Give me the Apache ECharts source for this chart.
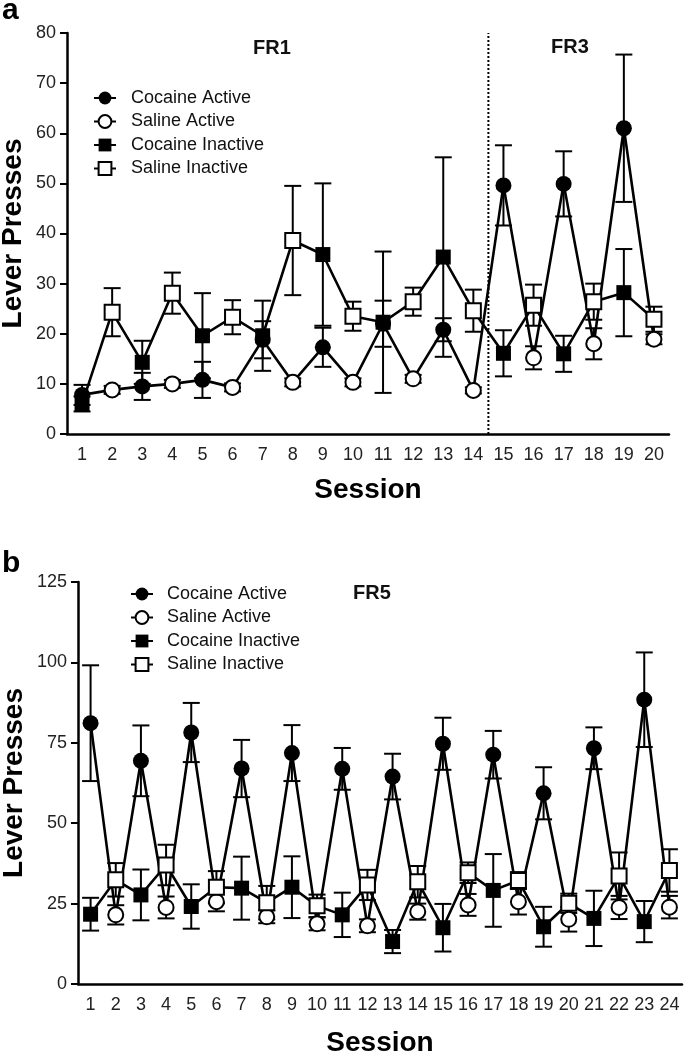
<!DOCTYPE html>
<html>
<head>
<meta charset="utf-8">
<script src="https://cdn.jsdelivr.net/npm/echarts@6/dist/echarts.min.js"></script>
<style>
html,body{margin:0;padding:0;background:#fff;}
#chart{width:685px;height:1055px;}
</style>
</head>
<body>
<div id="chart"></div>
<script>
// ---------- Panel a (FR1 / FR3), sessions 1-20 ----------
const sessionsA = ['1','2','3','4','5','6','7','8','9','10','11','12','13','14','15','16','17','18','19','20'];
const cocaineActiveA      = [7.8,null,9.5,null,10.8,null,18.8,null,17.3,null,22.0,null,20.8,null,49.6,null,49.9,null,61.0,null];
const cocaineActiveSemA   = [2.0,null,2.7,null,3.6,null,3.7,null,3.9,null,4.6,null,2.3,null,8.0,null,6.5,null,14.7,null];
const salineActiveA       = [null,8.8,null,10.0,null,9.3,null,10.3,null,10.3,null,11.0,null,8.7,null,15.2,null,18.0,null,18.9];
const salineActiveSemA    = [null,0.8,null,0.8,null,0.8,null,0.8,null,0.8,null,0.8,null,0.6,null,2.3,null,3.1,null,1.0];
const cocaineInactiveA    = [6.0,null,14.3,null,19.6,null,19.6,null,35.8,null,22.3,null,35.3,null,16.1,null,16.0,null,28.2,null];
const cocaineInactiveSemA = [1.5,null,4.3,null,8.5,null,7.0,null,14.2,null,14.1,null,19.9,null,4.6,null,3.6,null,8.7,null];
const salineInactiveA     = [null,24.3,null,28.1,null,23.3,null,38.6,null,23.5,null,26.4,null,24.6,null,25.7,null,26.4,null,22.9];
const salineInactiveSemA  = [null,4.8,null,4.1,null,3.4,null,10.9,null,2.9,null,2.8,null,4.2,null,4.1,null,3.6,null,2.5];
const yTicksA = {min:0, max:80, interval:10};
const phaseBoundaryA = 14.5;

// ---------- Panel b (FR5), sessions 1-24 ----------
const sessionsB = ['1','2','3','4','5','6','7','8','9','10','11','12','13','14','15','16','17','18','19','20','21','22','23','24'];
const cocaineActiveB      = [81.1,null,69.4,null,78.2,null,67.0,null,71.8,null,66.9,null,64.5,null,74.7,null,71.3,null,59.3,null,73.3,null,88.4,null];
const cocaineActiveSemB   = [18.0,null,11.0,null,9.2,null,8.9,null,8.7,null,6.5,null,7.1,null,8.1,null,7.4,null,8.1,null,6.5,null,14.7,null];
const salineActiveB       = [null,21.5,null,23.8,null,25.6,null,20.9,null,18.7,null,18.1,null,22.5,null,24.6,null,25.6,null,20.1,null,23.8,null,23.9];
const salineActiveSemB    = [null,3.0,null,3.4,null,3.0,null,2.0,null,2.0,null,2.0,null,2.5,null,3.4,null,4.0,null,3.8,null,3.6,null,3.5];
const cocaineInactiveB    = [21.7,null,27.7,null,24.1,null,29.8,null,30.1,null,21.5,null,13.2,null,17.5,null,29.1,null,17.8,null,20.4,null,19.4,null];
const cocaineInactiveSemB = [5.1,null,7.9,null,6.9,null,9.8,null,9.6,null,6.9,null,3.6,null,7.4,null,11.3,null,6.2,null,8.6,null,6.4,null];
const salineInactiveB     = [null,32.4,null,37.0,null,30.1,null,25.3,null,24.3,null,30.8,null,31.8,null,34.6,null,32.2,null,25.1,null,33.6,null,35.3];
const salineInactiveSemB  = [null,5.2,null,6.3,null,5.0,null,5.2,null,3.5,null,4.7,null,4.9,null,3.2,null,2.6,null,3.0,null,7.3,null,6.6];
const yTicksB = {min:0, max:125, interval:25};

const legendNames = ['Cocaine Active','Saline Active','Cocaine Inactive','Saline Inactive'];
const FONT = "'Liberation Sans', Arial, sans-serif";

function merge(a, b){ return a.map((v,i)=> v != null ? v : b[i]); }
function errData(vals, sems){
  const out = [];
  vals.forEach((v,i)=>{ if (v != null) out.push([i, v, sems[i]]); });
  return out;
}
function errRender(params, api){
  const x = api.value(0), y = api.value(1), e = api.value(2);
  const t = api.coord([x, y + e]);
  const b = api.coord([x, y - e]);
  const h = 8.5;
  const st = {stroke:'#000', lineWidth:2};
  return {type:'group', children:[
    {type:'line', shape:{x1:t[0], y1:t[1], x2:b[0], y2:b[1]}, style:st},
    {type:'line', shape:{x1:t[0]-h, y1:t[1], x2:t[0]+h, y2:t[1]}, style:st},
    {type:'line', shape:{x1:b[0]-h, y1:b[1], x2:b[0]+h, y2:b[1]}, style:st}
  ]};
}

const markerStyles = {
  'Cocaine Active':   {symbol:'circle', symbolSize:16, itemStyle:{color:'#000', borderColor:'#000', borderWidth:0}},
  'Saline Active':    {symbol:'circle', symbolSize:15, itemStyle:{color:'#fff', borderColor:'#000', borderWidth:2}},
  'Cocaine Inactive': {symbol:'rect',   symbolSize:15, itemStyle:{color:'#000', borderColor:'#000', borderWidth:0}},
  'Saline Inactive':  {symbol:'rect',   symbolSize:15, itemStyle:{color:'#fff', borderColor:'#000', borderWidth:2}}
};

function panelSeries(idx, d){
  const s = [];
  s.push({type:'line', xAxisIndex:idx, yAxisIndex:idx, data:merge(d.ca, d.sa), symbol:'none', z:2,
          lineStyle:{color:'#000', width:2.6}, silent:true, animation:false});
  s.push({type:'line', xAxisIndex:idx, yAxisIndex:idx, data:merge(d.ci, d.si), symbol:'none', z:2,
          lineStyle:{color:'#000', width:2.6}, silent:true, animation:false});
  [[d.ca,d.cae],[d.sa,d.sae],[d.ci,d.cie],[d.si,d.sie]].forEach(p=>{
    s.push({type:'custom', xAxisIndex:idx, yAxisIndex:idx, data:errData(p[0],p[1]), renderItem:errRender,
            encode:{x:0, y:1}, z:3, silent:true, animation:false});
  });
  const vals = {'Cocaine Active':d.ca, 'Saline Active':d.sa, 'Cocaine Inactive':d.ci, 'Saline Inactive':d.si};
  legendNames.forEach(n=>{
    const m = markerStyles[n];
    s.push({type:'line', name:n, xAxisIndex:idx, yAxisIndex:idx, data:vals[n], connectNulls:false,
            symbol:m.symbol, symbolSize:m.symbolSize, showAllSymbol:true, itemStyle:m.itemStyle,
            lineStyle:{color:'#000', width:3}, z:4, animation:false});
  });
  return s;
}

const series = [].concat(
  panelSeries(0, {ca:cocaineActiveA, cae:cocaineActiveSemA, sa:salineActiveA, sae:salineActiveSemA,
                  ci:cocaineInactiveA, cie:cocaineInactiveSemA, si:salineInactiveA, sie:salineInactiveSemA}),
  panelSeries(1, {ca:cocaineActiveB, cae:cocaineActiveSemB, sa:salineActiveB, sae:salineActiveSemB,
                  ci:cocaineInactiveB, cie:cocaineInactiveSemB, si:salineInactiveB, sie:salineInactiveSemB})
);
series.push({type:'custom', xAxisIndex:0, yAxisIndex:0, data:[[0]], z:1, silent:true, animation:false,
  renderItem:function(params, api){
    const i0 = Math.floor(phaseBoundaryA) - 1, i1 = i0 + 1;
    const p0 = api.coord([i0, yTicksA.min]), p1 = api.coord([i1, yTicksA.min]);
    const top = api.coord([i0, yTicksA.max]);
    const x = (p0[0] + p1[0]) / 2;
    return {type:'line', shape:{x1:x, y1:p0[1], x2:x, y2:top[1]}, style:{stroke:'#000', lineWidth:2, lineDash:[2,2]}};
  }});

function xAxisCfg(idx, cats, gap){
  return {type:'category', gridIndex:idx, data:cats, boundaryGap:true,
    name:'Session', nameLocation:'middle', nameGap:gap, nameMoveOverlap:false,
    nameTextStyle:{fontFamily:FONT, fontSize:28, fontWeight:'bold', color:'#000'},
    axisLine:{lineStyle:{color:'#000', width:2.5}},
    axisTick:{alignWithLabel:true, interval:0, length:6, lineStyle:{color:'#000', width:2}},
    axisLabel:{interval:0, margin:12, fontFamily:FONT, fontSize:18, color:'#222'},
    splitLine:{show:false}};
}
function yAxisCfg(idx, t, gap){
  return {type:'value', gridIndex:idx, min:t.min, max:t.max, interval:t.interval,
    name:'Lever Presses', nameLocation:'middle', nameGap:gap, nameRotate:90, nameMoveOverlap:false,
    nameTextStyle:{fontFamily:FONT, fontSize:28, fontWeight:'bold', color:'#000'},
    axisLine:{show:true, lineStyle:{color:'#000', width:2.5}},
    axisTick:{show:true, length:7, lineStyle:{color:'#000', width:2}},
    axisLabel:{margin:11, fontFamily:FONT, fontSize:18, color:'#222'},
    splitLine:{show:false}};
}
function legendCfg(left, top, pad){
  return {data:legendNames, orient:'vertical', left:left, top:top, itemWidth:22, itemHeight:16, itemGap:3.5,
    selectedMode:false,
    textStyle:{fontFamily:FONT, fontSize:18, color:'#111', lineHeight:20, padding:[0,0,0,pad]}};
}

const chart = echarts.init(document.getElementById('chart'), null, {renderer:'canvas'});
chart.setOption({
  backgroundColor:'#fff',
  animation:false,
  grid:[
    {left:67, top:33, width:602, height:401, containLabel:false, outerBoundsMode:'none'},
    {left:78, top:582, width:604, height:402, containLabel:false, outerBoundsMode:'none'}
  ],
  xAxis:[xAxisCfg(0, sessionsA, 42), xAxisCfg(1, sessionsB, 45)],
  yAxis:[yAxisCfg(0, yTicksA, 40), yAxisCfg(1, yTicksB, 50)],
  legend:[legendCfg(88, 83, 10), legendCfg(125, 579, 9)],
  graphic:[
    {type:'text', left:2, top:-4, style:{text:'a', font:"bold 30px 'Liberation Sans', Arial", fill:'#000'}},
    {type:'text', left:2, top:549, style:{text:'b', font:"bold 30px 'Liberation Sans', Arial", fill:'#000'}},
    {type:'text', left:253, top:38, style:{text:'FR1', font:"bold 20px 'Liberation Sans', Arial", fill:'#111'}},
    {type:'text', left:551, top:37, style:{text:'FR3', font:"bold 20px 'Liberation Sans', Arial", fill:'#111'}},
    {type:'text', left:353, top:583, style:{text:'FR5', font:"bold 20px 'Liberation Sans', Arial", fill:'#111'}}
  ],
  series:series
});
</script>
</body>
</html>
